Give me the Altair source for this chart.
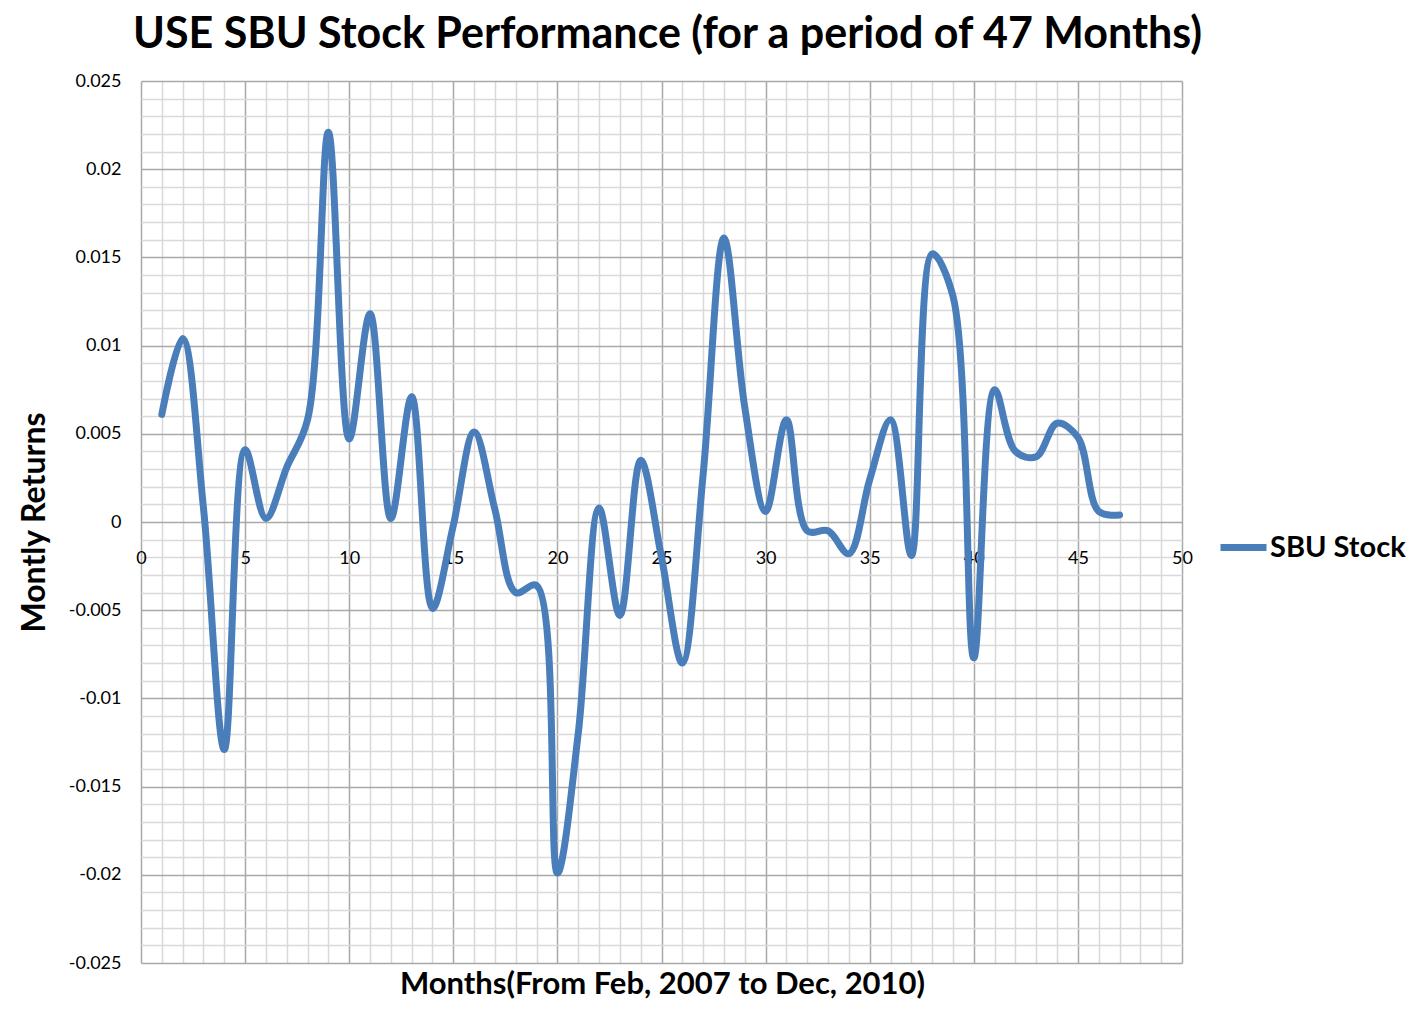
import altair as alt
import pandas as pd

months = list(range(1, 48))
returns = [
    0.0061, 0.0104, 0.0008, -0.0129, 0.0041, 0.0002, 0.0031, 0.0058, 0.0221, 0.0047,
    0.0118, 0.0002, 0.0071, -0.0049, -0.0002, 0.0051, 0.0007, -0.0040, -0.0036, -0.0199,
    -0.0120, 0.0008, -0.0053, 0.0035, -0.0020, -0.0080, 0.0027, 0.0161, 0.0065, 0.0006,
    0.0058, -0.0005, -0.0005, -0.0018, 0.0024, 0.0058, -0.0019, 0.0152, 0.0128, -0.0077,
    0.0075, 0.0040, 0.0037, 0.0056, 0.0048, 0.0006, 0.0004,
]
series = ["SBU Stock"] * len(months)

x_grid = list(range(0, 51))
y_grid = [round(-0.025 + i * 0.001, 3) for i in range(51)]

df = pd.DataFrame({"month": months, "ret": returns, "series": series})

FONT = "Lato"
MAJOR = "#a9a9a9"
MINOR = "#d9d9d9"

x_axis = alt.Axis(
    values=x_grid,
    grid=True,
    gridColor={"condition": {"test": "datum.value % 5 === 0", "value": MAJOR}, "value": MINOR},
    gridWidth=1.5,
    ticks=False,
    tickSize=0,
    domain=False,
    offset=-441,
    labelExpr="datum.value % 5 === 0 ? datum.label : ''",
    labelFont=FONT,
    labelFontSize=18,
    labelColor="#000000",
    labelPadding=27,
    labelFlush=False,
    labelOverlap=False,
    title="Months(From Feb, 2007 to Dec, 2010)",
    titleFont=FONT,
    titleFontSize=31,
    titleFontWeight="bold",
    titleColor="#000000",
    titleX=521,
    titleY=471,
    titleBaseline="alphabetic",
)

y_axis = alt.Axis(
    values=y_grid,
    grid=True,
    gridColor={"condition": {"test": "abs(round(datum.value * 1000)) % 5 === 0", "value": MAJOR}, "value": MINOR},
    gridWidth=1.5,
    ticks=False,
    tickSize=0,
    domain=False,
    labelExpr="abs(round(datum.value * 1000)) % 5 === 0 ? '' + round(datum.value * 1000) / 1000 : ''",
    labelFont=FONT,
    labelFontSize=18,
    labelColor="#000000",
    labelPadding=20,
    labelFlush=False,
    labelOverlap=False,
    title="Montly Returns",
    titleFont=FONT,
    titleFontSize=32,
    titleFontWeight="bold",
    titleColor="#000000",
    titleX=-97,
    titleY=441,
    titleBaseline="alphabetic",
)

chart = (
    alt.Chart(df)
    .mark_line(interpolate="catmull-rom", strokeWidth=7, strokeCap="round", strokeJoin="round")
    .encode(
        x=alt.X("month:Q", scale=alt.Scale(domain=[0, 50], nice=False, zero=False), axis=x_axis),
        y=alt.Y("ret:Q", scale=alt.Scale(domain=[-0.025, 0.025], nice=False, zero=False), axis=y_axis),
        color=alt.Color(
            "series:N",
            scale=alt.Scale(range=["#4a7ebb"]),
            legend=alt.Legend(
                title=None,
                orient="none",
                legendX=1076,
                legendY=440,
                symbolType="stroke",
                symbolSize=2116,
                symbolStrokeWidth=7,
                labelFont=FONT,
                labelFontSize=29,
                labelFontWeight="bold",
                labelColor="#000000",
                labelOffset=0,
                labelLimit=400,
                padding=0,
            ),
        ),
    )
    .properties(
        width=1041,
        height=882,
        padding={"left": 133, "top": 73, "right": 227, "bottom": 40},
        autosize=alt.AutoSizeParams(type="none"),
        title=alt.TitleParams(
            "USE SBU Stock Performance (for a period of 47 Months)",
            font=FONT,
            fontSize=43,
            fontWeight="bold",
            color="#000000",
            anchor="middle",
            offset=15,
            dx=6,
        ),
    )
    .configure_view(stroke=None)
)

chart.save("out.html", embed_options={"renderer": "svg", "actions": False})
